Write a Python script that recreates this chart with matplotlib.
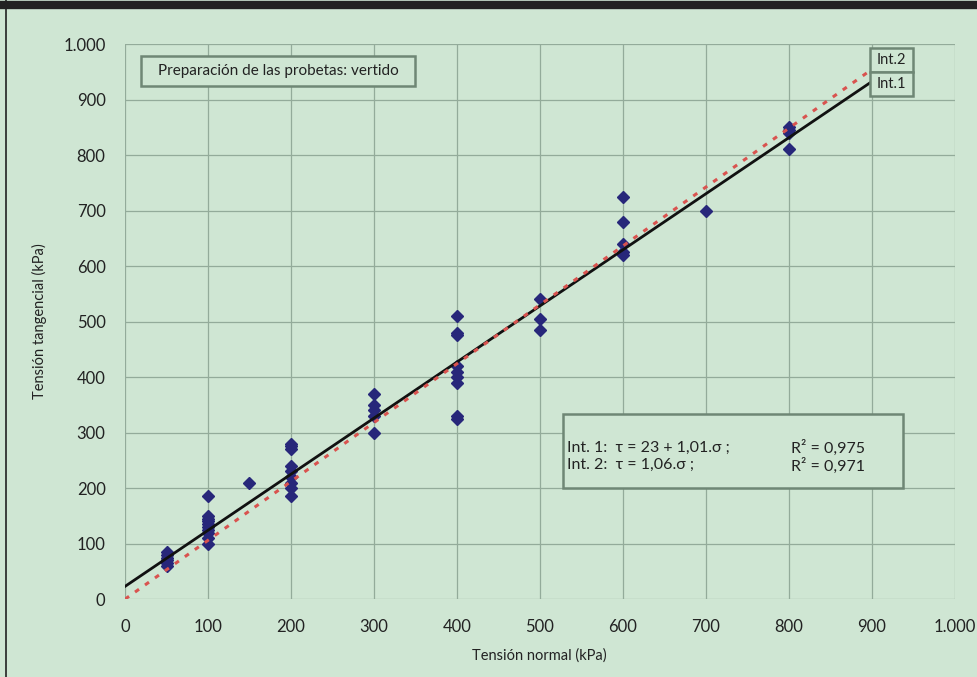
import matplotlib.pyplot as plt
import numpy as np
from matplotlib.ticker import FuncFormatter
from matplotlib.patches import Rectangle

# data
x50 = [85, 80, 75, 70, 65, 60]
x100 = [185, 150, 145, 140, 135, 130, 125, 120, 110, 100]
x150 = [210]
x200 = [280, 275, 270, 240, 230, 220, 210, 200, 185]
x300 = [370, 350, 340, 330, 300]
x400 = [510, 480, 475, 420, 410, 400, 390, 330, 325]
x500 = [540, 505, 485]
x600 = [725, 680, 640, 625, 620]
x700 = [700]
x800 = [850, 845, 840, 810]

groups = [(50, x50), (100, x100), (150, x150), (200, x200), (300, x300),
          (400, x400), (500, x500), (600, x600), (700, x700), (800, x800)]

int1_a, int1_b = 23, 1.01
int2_b = 1.06
line_x = np.array([0, 900])

ticks = [0, 100, 200, 300, 400, 500, 600, 700, 800, 900, 1000]

bg = '#cfe6d3'
edge = '#6f8775'
txt = '#222222'
plt.rcParams['font.family'] = ['Lato', 'DejaVu Sans']

fig = plt.figure(figsize=(9.77, 6.77), dpi=100, facecolor=bg)
ax = fig.add_axes([0.128, 0.115, 0.849, 0.82])
ax.set_facecolor(bg)

pts_x = []
pts_y = []
for gx, ys in groups:
    pts_x += [gx] * len(ys)
    pts_y += ys
ax.plot(pts_x, pts_y, 'D', color='#27277a', markersize=6.5, zorder=3)

ax.plot(line_x, int1_a + int1_b * line_x, color='#111111', linewidth=2, zorder=4)
ax.plot(line_x, int2_b * line_x, color='#d9534f', linewidth=2.2,
        linestyle=(0, (1.6, 2.4)), zorder=5)

ax.set_xlim(0, 1000)
ax.set_ylim(0, 1000)
ax.set_xticks(ticks)
ax.set_yticks(ticks)
fmt = FuncFormatter(lambda v, p: '1.000' if v == 1000 else f'{int(v)}')
ax.xaxis.set_major_formatter(fmt)
ax.yaxis.set_major_formatter(fmt)
ax.grid(True, color='#93ab9a', linewidth=0.9)
ax.set_axisbelow(True)
for s in ax.spines.values():
    s.set_visible(False)
ax.tick_params(length=0, labelsize=12, colors=txt, pad=14)

ax.set_xlabel('Tensión normal (kPa)', fontsize=10.5, color=txt, labelpad=10)
ax.set_ylabel('Tensión tangencial (kPa)', fontsize=10.5, color=txt, labelpad=12)


def box(x0, y0, w, h):
    ax.add_patch(Rectangle((x0, y0), w, h, transform=ax.transAxes,
                           facecolor=bg, edgecolor=edge, linewidth=1.8, zorder=6))


# title box
box(0.019, 0.925, 0.331, 0.053)
ax.text(0.185, 0.951, 'Preparación de las probetas: vertido', transform=ax.transAxes,
        fontsize=11, ha='center', va='center', color=txt, zorder=7)

# equations box
box(0.528, 0.2, 0.41, 0.133)
ax.text(0.533, 0.273, 'Int. 1:  τ = 23 + 1,01.σ ;', transform=ax.transAxes,
        fontsize=11.5, ha='left', va='center', color=txt, zorder=7)
ax.text(0.533, 0.241, 'Int. 2:  τ = 1,06.σ ;', transform=ax.transAxes,
        fontsize=11.5, ha='left', va='center', color=txt, zorder=7)
ax.text(0.803, 0.273, 'R² = 0,975', transform=ax.transAxes,
        fontsize=11.5, ha='left', va='center', color=txt, zorder=7)
ax.text(0.803, 0.241, 'R² = 0,971', transform=ax.transAxes,
        fontsize=11.5, ha='left', va='center', color=txt, zorder=7)

# line labels
box(0.898, 0.95, 0.052, 0.043)
box(0.898, 0.907, 0.052, 0.043)
ax.text(0.924, 0.971, 'Int.2', transform=ax.transAxes, fontsize=10.5,
        ha='center', va='center', color=txt, zorder=7)
ax.text(0.924, 0.928, 'Int.1', transform=ax.transAxes, fontsize=10.5,
        ha='center', va='center', color=txt, zorder=7)

# frame lines of the page
fig.add_artist(plt.Line2D([0, 1], [0.993, 0.993], transform=fig.transFigure,
                          color='#222222', linewidth=6))
fig.add_artist(plt.Line2D([0.006, 0.006], [0, 1], transform=fig.transFigure,
                          color='#222222', linewidth=1.2))

fig.savefig('out.png', dpi=100, facecolor=bg)
